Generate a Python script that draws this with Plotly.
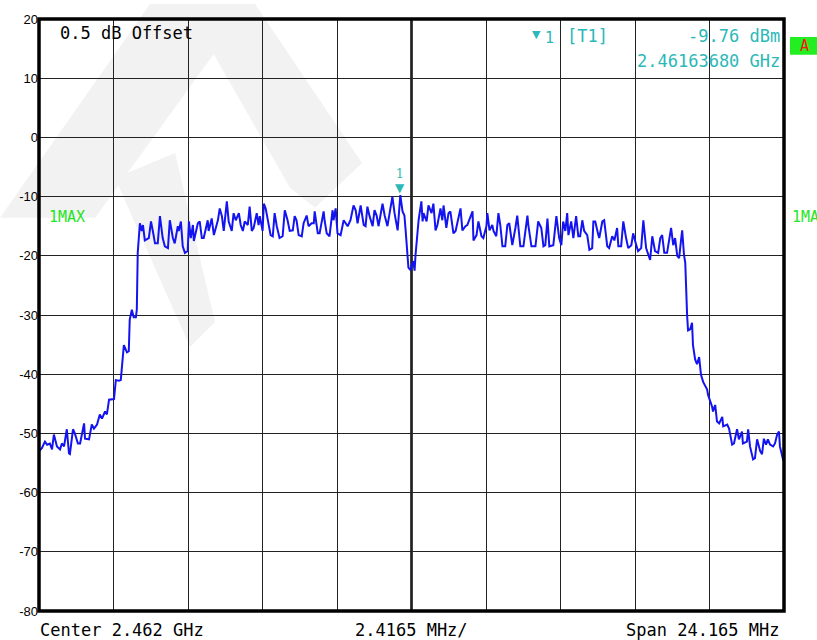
import plotly.graph_objects as go

# ---------------- data ----------------
center_ghz = 2.462
span_mhz = 24.165
div_mhz = 2.4165

# frequency offset from centre (MHz) and level (dBm) of trace 1 (max hold)
freq_mhz = [
    -12.08, -11.99, -11.89, -11.82, -11.73, -11.66, -11.60, -11.50, -11.40, -11.34,
    -11.27, -11.18, -11.11, -11.08, -10.98, -10.92, -10.82, -10.75, -10.62, -10.59,
    -10.46, -10.37, -10.30, -10.20, -10.11, -10.04, -9.94, -9.88, -9.81, -9.72,
    -9.65, -9.59, -9.49, -9.43, -9.36, -9.33, -9.23, -9.17, -9.14, -9.07,
    -9.01, -8.94, -8.91, -8.88, -8.81, -8.75, -8.71, -8.65, -8.52, -8.45,
    -8.39, -8.32, -8.23, -8.16, -8.07, -8.00, -7.90, -7.84, -7.74, -7.68,
    -7.58, -7.55, -7.48, -7.42, -7.35, -7.26, -7.22, -7.16, -7.09, -7.06,
    -6.93, -6.87, -6.80, -6.74, -6.61, -6.58, -6.48, -6.41, -6.28, -6.22,
    -6.15, -6.09, -5.99, -5.93, -5.83, -5.77, -5.70, -5.60, -5.54, -5.47,
    -5.41, -5.31, -5.25, -5.18, -5.12, -5.02, -4.96, -4.92, -4.83, -4.79,
    -4.73, -4.63, -4.57, -4.50, -4.44, -4.37, -4.28, -4.18, -4.11, -4.02,
    -3.95, -3.85, -3.79, -3.73, -3.66, -3.56, -3.50, -3.40, -3.34, -3.24,
    -3.17, -3.14, -3.04, -2.98, -2.85, -2.82, -2.75, -2.66, -2.56, -2.53,
    -2.46, -2.40, -2.30, -2.20, -2.07, -1.98, -1.88, -1.81, -1.75, -1.65,
    -1.55, -1.49, -1.43, -1.36, -1.26, -1.20, -1.13, -1.07, -0.94, -0.87,
    -0.78, -0.71, -0.62, -0.55, -0.45, -0.42, -0.3632, -0.29, -0.23, -0.19,
    -0.13, -0.10, -0.03, 0.00, 0.06, 0.10, 0.13, 0.19, 0.23, 0.32,
    0.36, 0.39, 0.49, 0.55, 0.65, 0.71, 0.78, 0.84, 0.94, 1.00,
    1.04, 1.13, 1.20, 1.26, 1.36, 1.43, 1.52, 1.59, 1.65, 1.75,
    1.81, 1.88, 1.98, 2.01, 2.11, 2.17, 2.27, 2.33, 2.43, 2.46,
    2.53, 2.62, 2.66, 2.75, 2.82, 2.88, 2.95, 3.04, 3.11, 3.17,
    3.27, 3.37, 3.43, 3.53, 3.63, 3.76, 3.79, 3.89, 4.02, 4.11,
    4.21, 4.28, 4.34, 4.41, 4.47, 4.60, 4.70, 4.79, 4.86, 4.92,
    4.99, 5.05, 5.09, 5.18, 5.25, 5.34, 5.41, 5.47, 5.54, 5.60,
    5.70, 5.77, 5.86, 5.90, 5.96, 6.06, 6.09, 6.19, 6.25, 6.35,
    6.41, 6.51, 6.58, 6.67, 6.71, 6.80, 6.87, 6.96, 7.03, 7.13,
    7.19, 7.29, 7.35, 7.45, 7.52, 7.61, 7.68, 7.74, 7.81, 7.90,
    8.00, 8.07, 8.13, 8.20, 8.29, 8.36, 8.42, 8.49, 8.55, 8.62,
    8.68, 8.75, 8.78, 8.84, 8.88, 8.94, 8.97, 9.04, 9.10, 9.13,
    9.20, 9.26, 9.33, 9.39, 9.46, 9.59, 9.62, 9.75, 9.78, 9.85,
    9.91, 9.98, 10.08, 10.11, 10.24, 10.30, 10.40, 10.46, 10.56, 10.62,
    10.72, 10.75, 10.88, 10.92, 10.98, 11.08, 11.14, 11.21, 11.31, 11.37,
    11.43, 11.50, 11.56, 11.63, 11.73, 11.79, 11.86, 11.92, 11.95, 12.05,
    12.08,
]
level_dbm = [
    -53.0, -52.5, -51.4, -51.9, -51.7, -52.7, -50.2, -52.2, -52.7, -51.7,
    -52.2, -49.3, -53.4, -53.5, -49.3, -50.0, -51.7, -51.7, -48.3, -50.9,
    -51.0, -48.5, -49.2, -48.5, -46.8, -47.5, -46.3, -46.8, -44.3, -44.2,
    -44.2, -41.0, -41.1, -41.0, -36.8, -35.1, -36.3, -36.1, -30.8, -29.1,
    -30.4, -30.4, -29.1, -19.5, -14.5, -15.8, -14.8, -17.4, -17.0, -14.2,
    -15.8, -17.9, -17.9, -13.3, -17.0, -18.4, -18.7, -14.0, -17.0, -17.9,
    -15.0, -15.8, -14.2, -18.4, -19.5, -19.2, -14.2, -17.0, -14.8, -17.5,
    -14.5, -14.2, -17.0, -17.0, -14.0, -15.8, -13.7, -16.5, -14.0, -12.0,
    -13.3, -15.8, -10.8, -14.2, -15.8, -12.8, -14.0, -12.8, -14.8, -15.8,
    -14.2, -14.8, -11.7, -15.8, -15.3, -12.8, -14.8, -13.3, -15.8, -11.2,
    -12.0, -14.5, -16.5, -16.7, -12.8, -15.0, -17.0, -16.7, -12.3, -14.0,
    -15.8, -15.7, -13.3, -14.0, -16.5, -16.7, -14.5, -13.2, -15.0, -14.5,
    -14.5, -12.5, -16.2, -16.2, -12.5, -14.0, -16.2, -16.7, -12.3, -14.0,
    -12.0, -16.2, -16.5, -14.0, -15.0, -14.0, -11.5, -12.3, -14.5, -11.5,
    -14.8, -15.0, -11.7, -13.3, -15.0, -12.3, -13.2, -15.0, -11.2, -13.2,
    -15.0, -12.8, -10.0, -12.8, -15.7, -13.7, -9.76, -12.5, -13.2, -15.7,
    -19.0, -22.0, -22.4, -21.7, -20.9, -22.5, -19.9, -15.3, -14.0, -10.8,
    -14.2, -12.8, -14.2, -11.5, -12.8, -11.2, -15.7, -14.8, -12.0, -14.0,
    -11.5, -15.3, -12.8, -12.5, -16.2, -15.8, -13.3, -12.0, -15.7, -15.0,
    -14.8, -13.7, -12.5, -17.4, -16.5, -14.2, -16.7, -17.0, -15.0, -12.8,
    -15.7, -14.8, -15.8, -16.7, -12.8, -14.8, -18.4, -18.4, -14.8, -14.5,
    -18.2, -15.3, -13.2, -18.4, -18.4, -13.2, -14.8, -18.4, -18.4, -14.2,
    -15.3, -18.4, -18.2, -13.7, -18.4, -18.2, -13.3, -17.0, -18.2, -14.2,
    -15.8, -12.8, -16.5, -14.2, -17.0, -13.3, -16.7, -16.7, -14.0, -15.8,
    -16.5, -19.0, -18.7, -14.2, -14.2, -16.5, -17.0, -14.2, -14.0, -18.4,
    -18.7, -16.7, -17.4, -15.3, -18.4, -18.4, -14.2, -17.0, -18.7, -18.2,
    -16.2, -18.2, -19.2, -18.7, -14.0, -18.7, -20.0, -20.7, -16.7, -19.2,
    -19.5, -17.0, -16.5, -19.5, -19.5, -17.0, -15.3, -18.2, -17.0, -20.0,
    -20.4, -17.0, -15.7, -19.9, -21.2, -30.1, -32.6, -32.4, -31.3, -35.1,
    -37.5, -38.3, -37.1, -40.1, -41.3, -42.6, -43.5, -45.5, -46.3, -45.2,
    -48.0, -48.3, -47.2, -48.8, -48.5, -49.2, -51.9, -51.7, -49.3, -51.0,
    -49.7, -51.7, -51.4, -49.3, -52.2, -54.4, -54.2, -51.0, -53.0, -53.5,
    -50.9, -51.9, -51.0, -51.9, -52.2, -51.7, -50.2, -49.7, -52.2, -54.4,
    -54.7,
]

y_ticks = [20, 10, 0, -10, -20, -30, -40, -50, -60, -70, -80]
y_tick_labels = ["20", "10", "0", "-10", "-20", "-30", "-40", "-50", "-60", "-70", "-80"]

marker_freq_mhz = -0.3632   # 2.46163680 GHz
marker_level_dbm = -9.76
ref_offset_db = 0.5

# ---------------- figure ----------------
W, H = 817, 640
L_S, R_S, T_S, B_S = 39, 784, 15, 611   # plot area in pixels
PW, PH = R_S - L_S, B_S - T_S

def px(x):
    return (x - L_S) / PW

def py(y):
    return (B_S - y) / PH

MONO = "DejaVu Sans Mono"
CYAN = "#2cb8b8"
GREEN = "#22e622"
BLUE = "#1414f0"

x_half = span_mhz / 2
x_grid = [-x_half + i * div_mhz for i in range(11)]

fig = go.Figure()
fig.add_trace(go.Scatter(
    x=freq_mhz, y=level_dbm, mode="lines",
    line=dict(color=BLUE, width=2), hoverinfo="skip", showlegend=False,
))

shapes = []
# faint watermark (light gray diagonal bands), below the grid
wm = [
    [(0, 215), (95, 215), (250, 0), (150, 0)],
    [(115, 175), (175, 150), (215, 320), (190, 345)],
    [(185, 0), (255, 0), (362, 160), (315, 205), (290, 185)],
]
for poly in wm:
    path = "M " + " L ".join(f"{px(a):.4f},{py(b):.4f}" for a, b in poly) + " Z"
    shapes.append(dict(type="path", path=path, xref="paper", yref="paper",
                       fillcolor="#f2f2f2", line=dict(width=0), layer="below"))
# centre-frequency line
shapes.append(dict(type="line", xref="x", yref="paper", x0=0, x1=0, y0=0, y1=1,
                   line=dict(color="black", width=2.5), layer="between"))
# frame
shapes.append(dict(type="rect", xref="paper", yref="paper", x0=0, x1=1, y0=0, y1=1,
                   line=dict(color="black", width=3.5), layer="above"))
# green "A" box
shapes.append(dict(type="rect", xref="paper", yref="paper",
                   x0=px(790), x1=px(830), y0=py(51), y1=py(33),
                   fillcolor="#22ee22", line=dict(width=0), layer="above"))

ann = []
def txt(text, x, y, xanchor="left", size=17, color="black", family=MONO):
    ann.append(dict(text=text, x=x, y=y, xref="paper", yref="paper",
                    xanchor=xanchor, yanchor="middle", showarrow=False,
                    font=dict(family=family, size=size, color=color)))

txt(f"{ref_offset_db} dB Offset", px(58), py(29))
txt("1MAX", px(47), py(214), size=15, color=GREEN)
txt("1MAX", px(790), py(214), size=15, color=GREEN)
txt("▼", px(536.5), py(31), xanchor="center", size=11, color=CYAN, family="DejaVu Sans")
txt("1", px(543), py(34), size=15, color=CYAN)
txt("[T1]", px(565), py(32), color=CYAN)
txt(f"{marker_level_dbm} dBm", px(782), py(32), xanchor="right", color=CYAN)
txt(f"{center_ghz + marker_freq_mhz / 1000:.8f} GHz", px(782), py(57), xanchor="right", color=CYAN)
txt("A", px(804), py(42), xanchor="center", size=15, color="#ff1010")
txt(f"Center {center_ghz} GHz", px(38), py(630))
txt(f"{div_mhz} MHz/", 0.5, py(630), xanchor="center")
txt(f"Span {span_mhz} MHz", px(782), py(630), xanchor="right")

# marker 1 symbol on trace
ann.append(dict(text="▼", x=marker_freq_mhz, y=marker_level_dbm, xref="x", yref="y",
                xanchor="center", yanchor="bottom", showarrow=False, yshift=-2,
                font=dict(family="DejaVu Sans", size=12, color=CYAN)))
ann.append(dict(text="1", x=marker_freq_mhz, y=marker_level_dbm, xref="x", yref="y",
                xanchor="center", yanchor="middle", showarrow=False, yshift=21,
                font=dict(family="DejaVu Serif", size=12, color=CYAN)))

fig.update_layout(
    width=W, height=H,
    margin=dict(l=L_S, r=W - R_S, t=T_S, b=H - B_S, pad=0),
    paper_bgcolor="white", plot_bgcolor="rgba(0,0,0,0)",
    shapes=shapes, annotations=ann, showlegend=False,
    xaxis=dict(range=[-x_half, x_half], tickvals=x_grid, showticklabels=False,
               showgrid=True, gridcolor="#222", gridwidth=1.3, zeroline=False,
               showline=False, ticks=""),
    yaxis=dict(range=[-80, 20], tickvals=y_ticks, ticktext=y_tick_labels,
               showgrid=True, gridcolor="#222", gridwidth=1.3, zeroline=False,
               showline=False, ticks="", ticklabeloverflow="allow",
               tickfont=dict(family="Liberation Sans", size=13, color="black")),
)

# remove the default 8 px page margin so the figure fills the 817x640 window
fig.write_html("out.html", config={"displayModeBar": False},
               post_script="document.body.style.margin='0px';")
